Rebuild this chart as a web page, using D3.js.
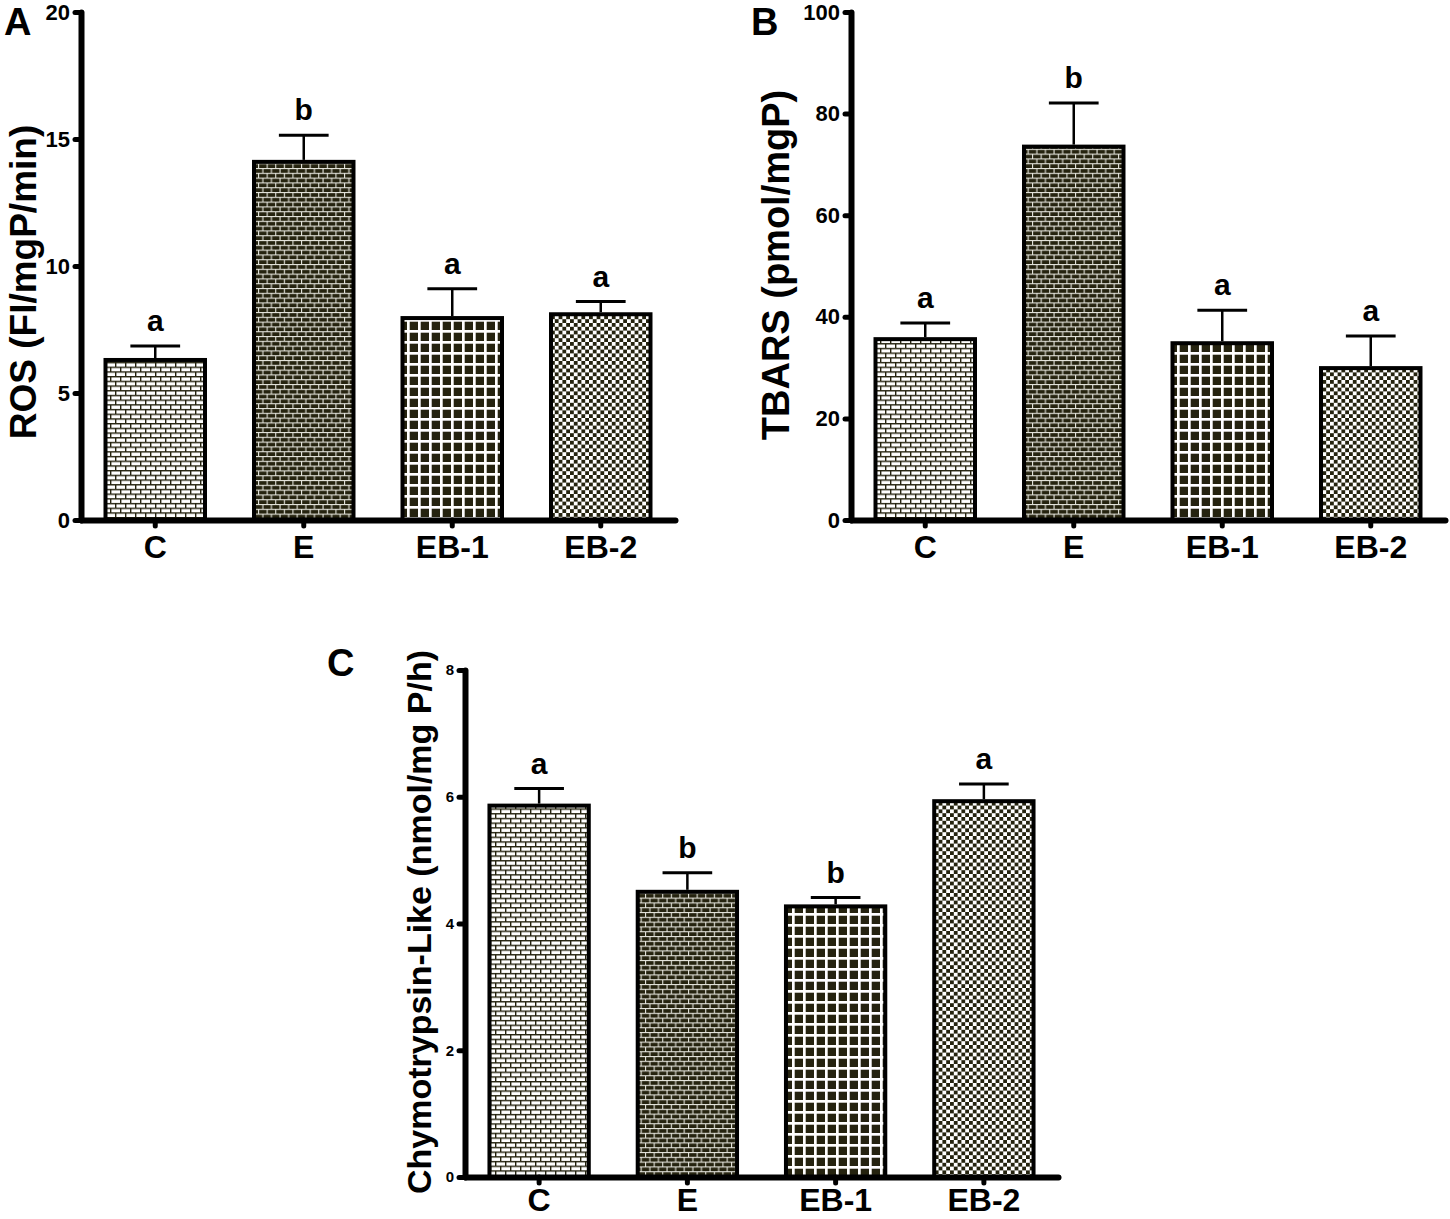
<!DOCTYPE html>
<html>
  <head>
    <meta charset="utf-8">
    <title>ROS, TBARS and chymotrypsin-like activity</title>
    <script src="https://cdn.jsdelivr.net/npm/d3@7"></script>
    <style>
      body { margin: 0; background: #fff; }
      #chart { display: block; font-family: "Liberation Sans", Arial, sans-serif; font-weight: bold; }
    </style>
  </head>

  <body>
    <svg id="chart" width="1450" height="1219"></svg>

    <script>
      // data
      groups = ["C", "E", "EB-1", "EB-2"];

      rosMean = [6.3, 14.1, 7.95, 8.1];
      rosSem = [0.55, 1.05, 1.15, 0.5];
      rosLetters = ["a", "b", "a", "a"];
      rosTicks = [0, 5, 10, 15, 20];

      tbarsMean = [35.6, 73.5, 34.8, 29.9];
      tbarsSem = [3.2, 8.6, 6.5, 6.3];
      tbarsLetters = ["a", "b", "a", "a"];
      tbarsTicks = [0, 20, 40, 60, 80, 100];

      chymoMean = [5.86, 4.5, 4.27, 5.93];
      chymoSem = [0.27, 0.3, 0.14, 0.27];
      chymoLetters = ["a", "b", "b", "a"];
      chymoTicks = [0, 2, 4, 6, 8];

      // layout
      panels = [
        {label: "A", title: "ROS (FI/mgP/min)", mean: rosMean, sem: rosSem, letters: rosLetters, ticks: rosTicks,
          left: 81, right: 675, top: 12, bottom: 520, tickFont: 22, titleFont: 37, titleX: 36, titleY: 282,
          catPad: 9, labelX: 4, labelY: 35},
        {label: "B", title: "TBARS (pmol/mgP)", mean: tbarsMean, sem: tbarsSem, letters: tbarsLetters, ticks: tbarsTicks,
          left: 851, right: 1445, top: 12, bottom: 520, tickFont: 22, titleFont: 38, titleX: 789, titleY: 265,
          catPad: 9, labelX: 751, labelY: 35},
        {label: "C", title: "Chymotrypsin-Like (nmol/mg P/h)", mean: chymoMean, sem: chymoSem, letters: chymoLetters, ticks: chymoTicks,
          left: 465, right: 1058, top: 670, bottom: 1177, tickFont: 15, titleFont: 34, titleX: 431, titleY: 922,
          catPad: 5, labelX: 327, labelY: 676}
      ];

      dark = "#25230f";
      fills = ["url(#brickLight)", "url(#brickDark)", "url(#grid)", "url(#checker)"];

      chart = d3.select("#chart");
      defs = chart.append("defs");

      // patterns
      function brick(id, w, h, t, bg, fg) {
        var pat = defs.append("pattern")
          .attr("id", id)
          .attr("patternUnits", "userSpaceOnUse")
          .attr("width", w)
          .attr("height", 2 * h);
        pat.append("rect").attr("width", w).attr("height", 2 * h).attr("fill", bg);
        pat.append("rect").attr("y", 0).attr("width", w).attr("height", t).attr("fill", fg);
        pat.append("rect").attr("y", h).attr("width", w).attr("height", t).attr("fill", fg);
        pat.append("rect").attr("x", 0).attr("y", 0).attr("width", t).attr("height", h).attr("fill", fg);
        pat.append("rect").attr("x", w / 2).attr("y", h).attr("width", t).attr("height", h).attr("fill", fg);
      }

      brick("brickLight", 10, 4.7, 1.4, "#fff", dark);
      brick("brickDark", 8.6, 4.8, 1.1, dark, "#e4e4dc");

      grid = defs.append("pattern")
        .attr("id", "grid")
        .attr("patternUnits", "userSpaceOnUse")
        .attr("width", 11)
        .attr("height", 11);
      grid.append("rect").attr("width", 11).attr("height", 11).attr("fill", dark);
      grid.append("rect").attr("width", 11).attr("height", 2.7).attr("fill", "#fff");
      grid.append("rect").attr("width", 2.7).attr("height", 11).attr("fill", "#fff");

      checker = defs.append("pattern")
        .attr("id", "checker")
        .attr("patternUnits", "userSpaceOnUse")
        .attr("width", 7.6)
        .attr("height", 7.6);
      checker.append("rect").attr("width", 7.6).attr("height", 7.6).attr("fill", "#fff");
      checker.append("rect").attr("width", 3.8).attr("height", 3.8).attr("fill", dark);
      checker.append("rect").attr("x", 3.8).attr("y", 3.8).attr("width", 3.8).attr("height", 3.8).attr("fill", dark);

      panels.forEach(drawPanel);

      function drawPanel(p) {
        var g = chart.append("g");

        var x = d3.scaleBand()
          .domain(groups)
          .range([p.left, p.right])
          .paddingInner(0.33)
          .paddingOuter(0.165);

        var y = d3.scaleLinear()
          .domain([0, d3.max(p.ticks)])
          .range([p.bottom, p.top]);

        function mid(d) { return x(d) + x.bandwidth() / 2; }
        function top(d, i) { return y(p.mean[i] + p.sem[i]); }

        // bars
        g.selectAll(".bar")
            .data(groups)
          .enter().append("rect")
            .classed("bar", true)
            .attr("x", function(d) { return x(d); })
            .attr("y", function(d, i) { return y(p.mean[i]); })
            .attr("width", x.bandwidth())
            .attr("height", function(d, i) { return y(0) - y(p.mean[i]); })
            .attr("fill", function(d, i) { return fills[i]; })
            .attr("stroke", "#000")
            .attr("stroke-width", 4);

        // error bars
        var err = g.selectAll(".err")
            .data(groups)
          .enter().append("g")
            .classed("err", true)
            .attr("stroke", "#000");

        err.append("line")
          .attr("x1", mid)
          .attr("x2", mid)
          .attr("y1", function(d, i) { return y(p.mean[i]) - 2; })
          .attr("y2", top)
          .attr("stroke-width", 2.5);

        err.append("line")
          .attr("x1", function(d) { return x(d) + x.bandwidth() / 4; })
          .attr("x2", function(d) { return x(d) + x.bandwidth() * 3 / 4; })
          .attr("y1", top)
          .attr("y2", top)
          .attr("stroke-width", 3);

        // significance letters
        g.selectAll(".letter")
            .data(groups)
          .enter().append("text")
            .classed("letter", true)
            .attr("x", mid)
            .attr("y", function(d, i) { return top(d, i) - 15; })
            .attr("text-anchor", "middle")
            .attr("font-size", 30)
            .text(function(d, i) { return p.letters[i]; });

        // axes
        var yAxis = g.append("g")
          .attr("transform", "translate(" + p.left + ",0)")
          .call(d3.axisLeft(y).tickValues(p.ticks).tickSize(6).tickSizeOuter(0).tickPadding(5));

        var xAxis = g.append("g")
          .attr("transform", "translate(0," + p.bottom + ")")
          .call(d3.axisBottom(x).tickSize(6).tickSizeOuter(0).tickPadding(p.catPad));

        yAxis.attr("font-size", p.tickFont);
        xAxis.attr("font-size", 32);

        [yAxis, xAxis].forEach(function(a) {
          a.attr("font-family", null);
          a.select(".domain")
            .attr("stroke", "#000")
            .attr("stroke-width", 6)
            .attr("stroke-linecap", "round");
          a.selectAll(".tick line")
            .attr("stroke", "#000")
            .attr("stroke-width", 5)
            .attr("stroke-linecap", "round");
          a.selectAll(".tick text").attr("fill", "#000");
        });

        // axis title
        g.append("text")
          .attr("transform", "translate(" + p.titleX + "," + p.titleY + ") rotate(-90)")
          .attr("text-anchor", "middle")
          .attr("font-size", p.titleFont)
          .text(p.title);

        // panel label
        g.append("text")
          .attr("x", p.labelX)
          .attr("y", p.labelY)
          .attr("font-size", 38)
          .text(p.label);
      }
    </script>
  </body>
</html>
